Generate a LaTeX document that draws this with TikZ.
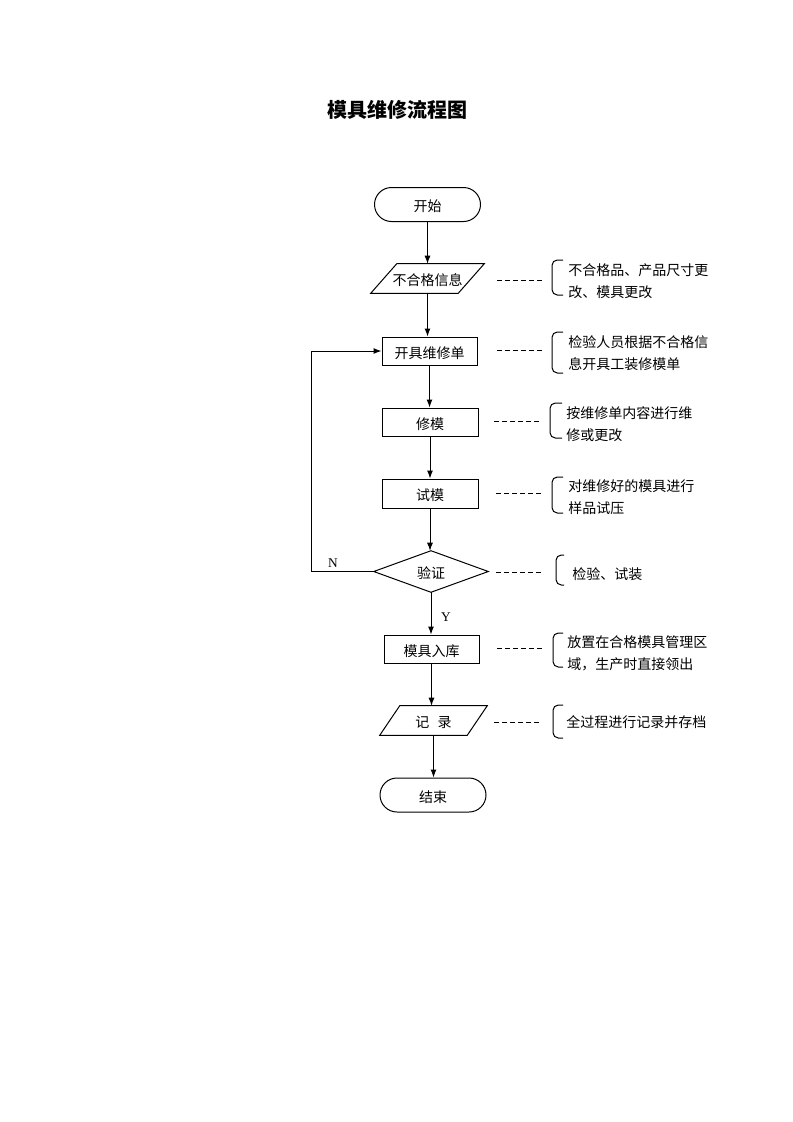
\documentclass[tikz,border=0pt]{standalone}
\usepackage{fontspec}
\setmainfont{Noto Sans CJK SC}
\newfontfamily\latfont{Liberation Serif}
\usetikzlibrary{arrows.meta}
\begin{document}
\begin{tikzpicture}[x=0.75pt,y=-0.75pt,
  every node/.style={font=\fontsize{10.5}{16.5}\selectfont},
  line/.style={line width=0.75pt,black},
  arr/.style={line, -{Latex[length=6pt,width=4.5pt]}},
  procbox/.style={draw,line width=0.75pt,rectangle,inner sep=0pt,minimum width=#1,minimum height=21pt,text height=10.5pt,text depth=0pt},
  termbox/.style={draw,line width=0.75pt,rectangle,rounded corners=12.75pt,inner sep=0pt,minimum width=79.5pt,minimum height=25.5pt,text height=10.5pt,text depth=0pt},
  shapebox/.style={draw=none,rectangle,inner sep=0pt,text height=10.5pt,text depth=0pt},
  notetext/.style={anchor=west,align=left,inner sep=0pt},
  dashline/.style={line width=0.75pt,dash pattern=on 3.5pt off 2.5pt},
  brk/.style={line width=0.75pt,rounded corners=4pt}
]
\fill[white] (0,0) rectangle (793,1122);
\useasboundingbox (0,0) rectangle (793,1122);

\node[font=\fontsize{15}{18}\selectfont\bfseries] (title) at (397,110) {模具维修流程图};

% main nodes
\node[termbox] (start) at (427.5,204.5) {开始};
\node[shapebox,minimum width=84.75pt,minimum height=21.75pt] (info) at (427.5,278.5) {不合格信息};
\draw[line] ([xshift=19.5pt]info.north west) -- (info.north east) -- ([xshift=-19.5pt]info.south east) -- (info.south west) -- cycle;
\node[procbox=71.25pt] (order) at (429.5,351) {开具维修单};
\node[procbox=72pt] (fix) at (430,422) {修模};
\node[procbox=72pt,minimum height=21.75pt] (trial) at (430,493.5) {试模};
\node[shapebox,minimum width=85.5pt,minimum height=30.75pt] (verify) at (431,571.5) {验证};
\draw[line] (verify.west) -- (verify.north) -- (verify.east) -- (verify.south) -- cycle;
\node[procbox=71.25pt] (store) at (431.5,649) {模具入库};
\node[shapebox,minimum width=80.25pt,minimum height=21.75pt] (record) at (433.5,720.5) {记\hspace{0.6em}录};
\draw[line] ([xshift=15pt]record.north west) -- (record.north east) -- ([xshift=-15pt]record.south east) -- (record.south west) -- cycle;
\node[termbox] (finish) at (433,795) {结束};

% connectors
\draw[arr] (start.south) -- (start.south |- info.north);
\draw[arr] (info.south) -- (info.south |- order.north);
\draw[arr] (order.south) -- (order.south |- fix.north);
\draw[arr] (fix.south) -- (fix.south |- trial.north);
\draw[arr] (trial.south) -- (trial.south |- verify.north);
\draw[arr] (verify.south) -- (verify.south |- store.north);
\draw[arr] (store.south) -- (store.south |- record.north);
\draw[arr] (record.south) -- (record.south |- finish.north);
\coordinate (loop) at (311,571.5);
\draw[arr] (verify.west) -- (loop) |- (order.west);
\node[font=\fontsize{10}{12}\selectfont\latfont] (nlab) at (333,563) {N};
\node[font=\fontsize{10}{12}\selectfont\latfont] (ylab) at (446,617) {Y};

% annotations
\node[notetext] (n1) at (568,281) {不合格品、产品尺寸更\\改、模具更改};
\node[notetext] (n2) at (568,353) {检验人员根据不合格信\\息开具工装修模单};
\node[notetext] (n3) at (566,424) {按维修单内容进行维\\修或更改};
\node[notetext] (n4) at (568,497.5) {对维修好的模具进行\\样品试压};
\node[notetext] (n5) at (572,574) {检验、试装};
\node[notetext] (n6) at (567,653) {放置在合格模具管理区\\域，生产时直接领出};
\node[notetext] (n7) at (566,722) {全过程进行记录并存档};

% brackets
\draw[brk] (563,260) -- (552,260) -- (552,295) -- (563,295);
\draw[brk] (563,332) -- (552,332) -- (552,373) -- (563,373);
\draw[brk] (562,403) -- (550,403) -- (550,438) -- (562,438);
\draw[brk] (563,477) -- (552,477) -- (552,513) -- (563,513);
\draw[brk] (564,555) -- (556,555) -- (556,585) -- (564,585);
\draw[brk] (563,633) -- (553,633) -- (553,667) -- (563,667);
\draw[brk] (563,705) -- (553,705) -- (553,738) -- (563,738);

% dashed leaders
\coordinate (d1a) at (497,280); \coordinate (d1b) at (543,280);
\coordinate (d2a) at (497,350); \coordinate (d2b) at (543,350);
\coordinate (d3a) at (494,421); \coordinate (d3b) at (540,421);
\coordinate (d4a) at (496,493); \coordinate (d4b) at (542,493);
\coordinate (d5a) at (496,572); \coordinate (d5b) at (542,572);
\coordinate (d6a) at (497,648); \coordinate (d6b) at (543,648);
\coordinate (d7a) at (494,722); \coordinate (d7b) at (540,722);
\foreach \i in {1,...,7} { \draw[dashline] (d\i a) -- (d\i b); }
\end{tikzpicture}
\end{document}
